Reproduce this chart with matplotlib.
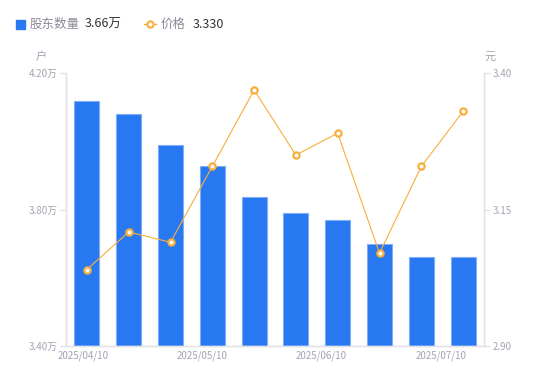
import matplotlib
matplotlib.use("Agg")
import matplotlib.pyplot as plt
from matplotlib.lines import Line2D
import numpy as np

plt.rcParams["font.family"] = ["Noto Sans CJK SC", "DejaVu Sans"]

# ---------------------------------------------------------------------------
# Data
# ---------------------------------------------------------------------------
dates = ["2025/04/10", "2025/04/20", "2025/04/30", "2025/05/10", "2025/05/20",
         "2025/05/31", "2025/06/10", "2025/06/20", "2025/06/30", "2025/07/10"]
holders = [4.118, 4.079, 3.988, 3.928, 3.838, 3.789, 3.769, 3.699, 3.660, 3.660]  # 万户
price = [3.040, 3.109, 3.090, 3.229, 3.369, 3.250, 3.290, 3.070, 3.229, 3.330]
tick_idx = [0, 3, 6, 9]
left_ticks = [3.40, 3.80, 4.20]
right_ticks = [2.90, 3.15, 3.40]

# ---------------------------------------------------------------------------
# Style
# ---------------------------------------------------------------------------
C_BAR = "#2878F2"
C_BAR_EDGE = "#7FAEF6"
C_LINE = "#F8AE3C"
C_AXIS = "#E3E3E8"
C_TICK = "#A3A3B2"
C_TEXT = "#333333"

fig = plt.figure(figsize=(5.5, 3.81), dpi=100)
ax = fig.add_axes([0.12, 0.092, 0.76, 0.716])
ax2 = ax.twinx()

x = np.arange(len(dates))
ax.bar(x, holders, width=0.6, color=C_BAR, edgecolor=C_BAR_EDGE,
       linewidth=0.8, zorder=2)
ax.set_ylim(left_ticks[0], left_ticks[-1])
ax.set_xlim(-0.5, len(dates) - 0.5)

ax2.plot(x, price, color=C_LINE, lw=0.8, marker="o", ms=4.5,
         mfc="white", mec=C_LINE, mew=1.6, zorder=3)
ax2.set_ylim(right_ticks[0], right_ticks[-1])

# axes styling
for a in (ax, ax2):
    a.spines["top"].set_visible(False)
    for s in ("left", "right", "bottom"):
        a.spines[s].set_color(C_AXIS)
        a.spines[s].set_linewidth(1)

ax.set_yticks(left_ticks)
ax.set_yticklabels([f"{v:.2f}万" for v in left_ticks])
ax2.set_yticks(right_ticks)
ax2.set_yticklabels([f"{v:.2f}" for v in right_ticks])
ax.tick_params(axis="y", colors=C_AXIS, labelcolor=C_TICK, labelsize=7,
               length=4, width=1, pad=2)
ax2.tick_params(axis="y", colors=C_AXIS, labelcolor=C_TICK, labelsize=7,
                length=4, width=1, pad=2)

# x tick labels, spread like the original
label_pos = [-0.1, 2.75, 5.6, 8.47]
ax.set_xticks(label_pos)
ax.set_xticklabels([dates[i] for i in tick_idx])
ax.tick_params(axis="x", length=0, labelcolor=C_TICK, labelsize=7, pad=3)

# unit labels
ax.text(-0.06, 1.06, "户", transform=ax.transAxes, ha="center", va="center",
        fontsize=8, color=C_TICK)
ax2.text(1.015, 1.06, "元", transform=ax2.transAxes, ha="center", va="center",
         fontsize=8, color=C_TICK)

# ---------------------------------------------------------------------------
# Legend (header)
# ---------------------------------------------------------------------------
ly = 1 - 24 / 381
fig.patches.append(plt.Rectangle((16 / 550, 1 - 29 / 381), 9 / 550, 9 / 381,
                                 transform=fig.transFigure, color=C_BAR))
fig.text(30 / 550, ly, "股东数量", fontsize=9, color="#8C8C99",
         ha="left", va="center")
fig.text(85 / 550, ly, f"{holders[-1]:.2f}万", fontsize=9,
         color=C_TEXT, ha="left", va="center")
fig.lines.append(Line2D([144 / 550, 156 / 550], [ly, ly],
                        transform=fig.transFigure, color=C_LINE, lw=1))
fig.lines.append(Line2D([150 / 550], [ly],
                        transform=fig.transFigure, color=C_LINE, lw=0,
                        marker="o", ms=4.5, mfc="white", mec=C_LINE, mew=1.5))
fig.text(161 / 550, ly, "价格", fontsize=9, color="#8C8C99",
         ha="left", va="center")
fig.text(193 / 550, ly, f"{price[-1]:.3f}", fontsize=9,
         color=C_TEXT, ha="left", va="center")

fig.savefig("out.png", dpi=100, facecolor="white")
